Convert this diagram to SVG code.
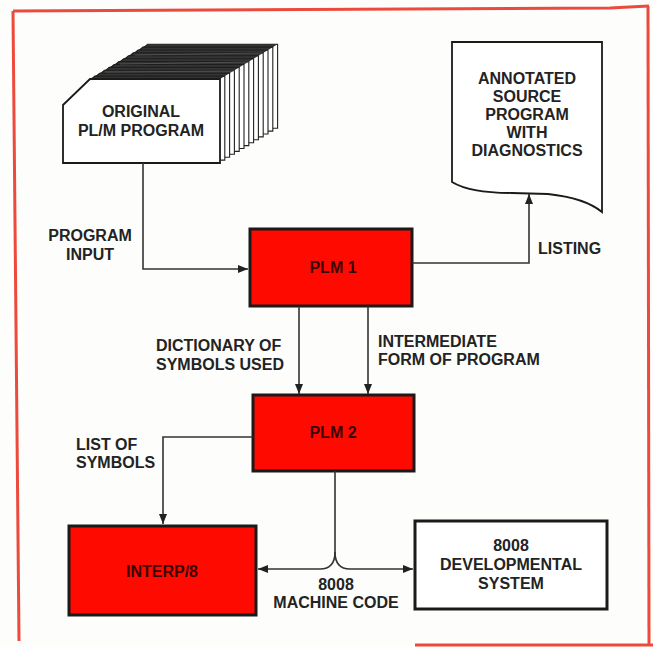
<svg xmlns="http://www.w3.org/2000/svg" width="653" height="647" viewBox="0 0 653 647">
<style>
.t{font-family:"Liberation Sans",Arial,sans-serif;font-weight:bold;font-size:16px;fill:#232323;}
.c{text-anchor:middle;}
.rt{fill:#3a0505;}
.redbox{fill:#ff0a00;stroke:#1a1a1a;stroke-width:3;}
.whitebox{fill:#fff;stroke:#1a1a1a;stroke-width:3;}
.card{fill:#fff;stroke:#222;stroke-width:1.1;}
.ln{fill:none;stroke:#333;stroke-width:1.6;}
.border{fill:none;stroke:#ec4a3c;stroke-width:3;}
</style>
<defs>
<marker id="ah" markerUnits="userSpaceOnUse" markerWidth="11" markerHeight="8" refX="10" refY="4" orient="auto">
<path d="M0,0 L10,4 L0,8 Z" fill="#222"/>
</marker>
<polygon id="cardshape" points="63,105 90,79 220,79 220,163 63,163"/>
</defs>
<rect x="0" y="0" width="653" height="647" fill="#fdfdfb"/>
<g id="frame">
<path class="border" d="M13,11 L610,8 L649,6"/>
<path class="border" d="M13,11 L19,641"/>
<path class="border" d="M648,6 L649,646"/>
<path class="border" d="M415,645 L653,645"/>
</g>
<g id="deck">
<use href="#cardshape" class="card" transform="translate(57.6,-34.8)"/>
<use href="#cardshape" class="card" transform="translate(52.8,-31.9)"/>
<use href="#cardshape" class="card" transform="translate(48,-29)"/>
<use href="#cardshape" class="card" transform="translate(43.2,-26.1)"/>
<use href="#cardshape" class="card" transform="translate(38.4,-23.2)"/>
<use href="#cardshape" class="card" transform="translate(33.6,-20.3)"/>
<use href="#cardshape" class="card" transform="translate(28.8,-17.4)"/>
<use href="#cardshape" class="card" transform="translate(24,-14.5)"/>
<use href="#cardshape" class="card" transform="translate(19.2,-11.6)"/>
<use href="#cardshape" class="card" transform="translate(14.4,-8.7)"/>
<use href="#cardshape" class="card" transform="translate(9.6,-5.8)"/>
<use href="#cardshape" class="card" transform="translate(4.8,-2.9)"/>
<polygon points="90,79 147.6,44.2 277.6,44.2 220,79" fill="#1e1e1e" opacity="0.9"/>
<path d="M120,64 L250,62 M105,72 L235,71 M135,55 L262,53" stroke="#666" stroke-width="1" opacity="0.6"/>
<polygon points="63,105 90,79 220,79 220,163 63,163" fill="#fff" stroke="#1a1a1a" stroke-width="1.8"/>
<text class="t c" x="141" y="117">ORIGINAL</text>
<text class="t c" x="141" y="136">PL/M PROGRAM</text>
</g>
<g id="listing-doc">
<path d="M452,42 L602,42 L602,212 Q585,198 548,194 L512,193 Q470,193 452,182 Z" fill="#fff" stroke="#1a1a1a" stroke-width="1.8"/>
<text class="t c" x="527" y="84">ANNOTATED</text>
<text class="t c" x="527" y="102">SOURCE</text>
<text class="t c" x="527" y="120">PROGRAM</text>
<text class="t c" x="527" y="138">WITH</text>
<text class="t c" x="527" y="156">DIAGNOSTICS</text>
</g>
<g id="plm1">
<rect class="redbox" x="250" y="229" width="162" height="77"/>
<text class="t c rt" x="333" y="273">PLM 1</text>
</g>
<g id="plm2">
<rect class="redbox" x="253" y="395" width="161" height="76"/>
<text class="t c rt" x="333" y="438">PLM 2</text>
</g>
<g id="interp8">
<rect class="redbox" x="69" y="526" width="187" height="89"/>
<text class="t c rt" x="162" y="577">INTERP/8</text>
</g>
<g id="devsystem">
<rect class="whitebox" x="415" y="521" width="192" height="88"/>
<text class="t c" x="511" y="551">8008</text>
<text class="t c" x="511" y="570">DEVELOPMENTAL</text>
<text class="t c" x="511" y="589">SYSTEM</text>
</g>
<g id="connectors">
<path class="ln" d="M143,163 V269 H248" marker-end="url(#ah)"/>
<path class="ln" d="M412,263 H529 V194" marker-end="url(#ah)"/>
<path class="ln" d="M299,306 V394" marker-end="url(#ah)"/>
<path class="ln" d="M368,306 V394" marker-end="url(#ah)"/>
<path class="ln" d="M253,437 H163 V524" marker-end="url(#ah)"/>
<path class="ln" d="M335,471 V552 Q335,569 320,569 H258" marker-end="url(#ah)"/>
<path class="ln" d="M335,552 Q335,569 350,569 H413" marker-end="url(#ah)"/>
</g>
<g id="labels">
<text class="t c" x="90" y="241">PROGRAM</text>
<text class="t c" x="90" y="260">INPUT</text>
<text class="t" x="538" y="254">LISTING</text>
<text class="t" x="156" y="351">DICTIONARY OF</text>
<text class="t" x="156" y="370">SYMBOLS USED</text>
<text class="t" x="378" y="347">INTERMEDIATE</text>
<text class="t" x="378" y="365">FORM OF PROGRAM</text>
<text class="t" x="76" y="450">LIST OF</text>
<text class="t" x="76" y="468">SYMBOLS</text>
<text class="t c" x="336" y="590">8008</text>
<text class="t c" x="336" y="608">MACHINE CODE</text>
</g>
</svg>
